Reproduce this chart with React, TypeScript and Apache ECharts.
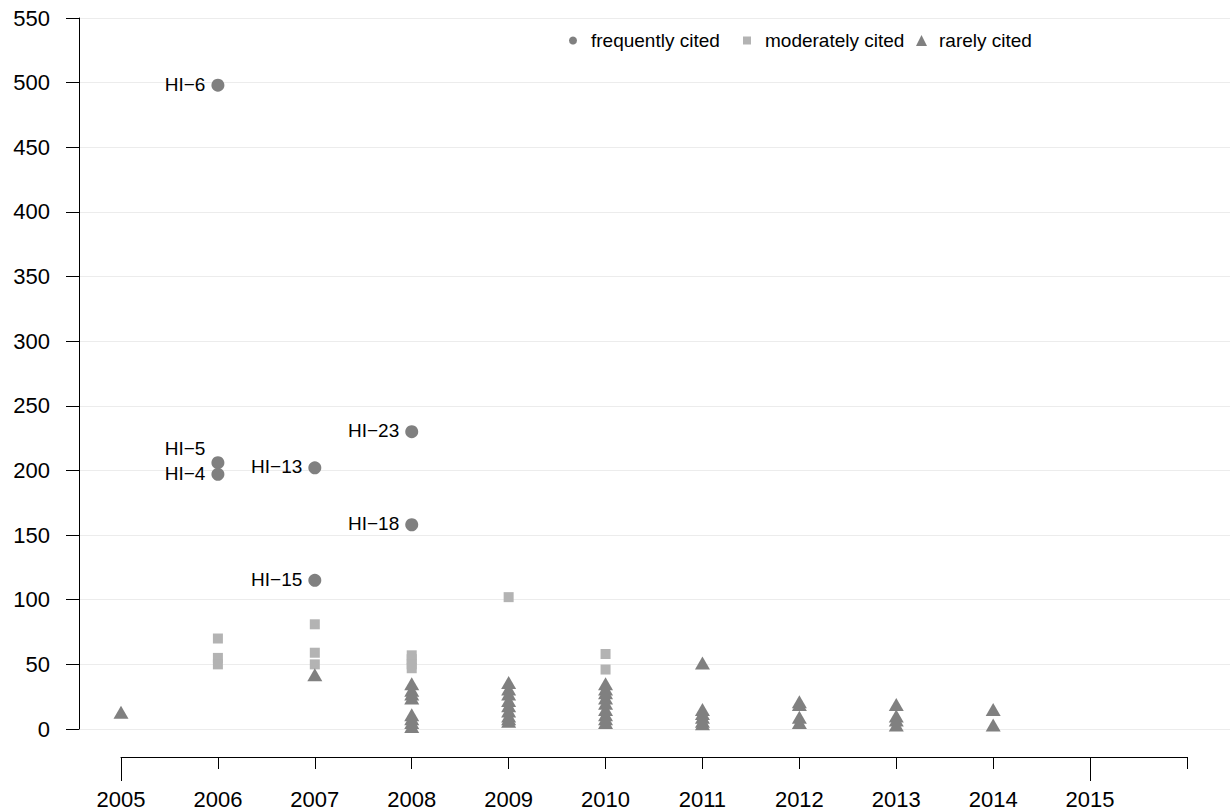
import React, { useEffect, useRef } from "react";
import * as echarts from "echarts";

// ---- data ----
const frequentYears = [2006, 2006, 2006, 2007, 2007, 2008, 2008];
const frequentCites = [498, 206, 197, 202, 115, 230, 158];
const frequentNames = ["HI−6", "HI−5", "HI−4", "HI−13", "HI−15", "HI−23", "HI−18"];

const moderateYears = [2006, 2006, 2006, 2007, 2007, 2007, 2008, 2008, 2008, 2008, 2009, 2010, 2010];
const moderateCites = [70, 55, 50, 81, 59, 50, 57, 54, 50, 47, 102, 58, 46];

const rareYears = [
  2005,
  2007,
  2008, 2008, 2008, 2008, 2008, 2008, 2008, 2008,
  2009, 2009, 2009, 2009, 2009, 2009, 2009, 2009, 2009,
  2010, 2010, 2010, 2010, 2010, 2010, 2010, 2010, 2010,
  2011, 2011, 2011, 2011, 2011, 2011,
  2012, 2012, 2012, 2012,
  2013, 2013, 2013, 2013,
  2014, 2014,
];
const rareCites = [
  13,
  42,
  35, 30, 27, 24, 11, 8, 5, 2,
  36, 31, 27, 22, 18, 14, 10, 8, 6,
  35, 31, 28, 24, 20, 15, 11, 8, 5,
  51, 15, 12, 9, 6, 4,
  21, 19, 9, 5,
  19, 10, 7, 3,
  15, 3,
];

const yearTicks = [2005, 2006, 2007, 2008, 2009, 2010, 2011, 2012, 2013, 2014, 2015];
const longTicks = [2005, 2015];
const seriesNames = ["frequently cited", "moderately cited", "rarely cited"];

const FONT = "'Liberation Sans', Arial, Helvetica, sans-serif";
const DARK = "#808080";
const LIGHT = "#b3b3b3";

export default function App() {
  const ref = useRef<HTMLDivElement>(null);

  useEffect(() => {
    if (!ref.current) return;
    const chart = echarts.init(ref.current, null, { renderer: "svg" });

    const freqData = frequentYears.map((x, i) => {
      const item: any = { name: frequentNames[i], value: [x, frequentCites[i]] };
      if (frequentNames[i] === "HI−5") item.label = { offset: [0, -14] };
      return item;
    });
    const modData = moderateYears.map((x, i) => [x, moderateCites[i]]);
    const rareData = rareYears.map((x, i) => [x, rareCites[i]]);

    const legendCommon = (left: number, w: number, pad: number, name: string, icon: string) => ({
      orient: "horizontal",
      left,
      top: 26,
      itemWidth: w,
      itemHeight: w,
      selectedMode: false,
      textStyle: { fontSize: 19, color: "#000", fontFamily: FONT, padding: [0, 0, 0, pad] },
      data: [{ name, icon }],
    });

    chart.setOption({
      animation: false,
      backgroundColor: "#fff",
      textStyle: { fontFamily: FONT },
      grid: [
        { left: 121, right: 44, top: 18, bottom: 82 },
        { left: 79, right: 1, top: 18, bottom: 82 },
      ],
      legend: [
        legendCommon(564, 8, 9, seriesNames[0], "circle"),
        legendCommon(738, 8, 9, seriesNames[1], "rect"),
        legendCommon(911, 11, 7, seriesNames[2], "triangle"),
      ],
      xAxis: [
        {
          type: "value",
          gridIndex: 0,
          min: 2005,
          max: 2016,
          interval: 1,
          position: "bottom",
          offset: 28,
          axisLine: { show: true, onZero: false, lineStyle: { color: "#000", width: 1 } },
          axisTick: { show: true, length: 12, lineStyle: { color: "#000", width: 1 } },
          axisLabel: {
            show: true,
            margin: 31,
            fontSize: 22,
            color: "#000",
            fontFamily: FONT,
            customValues: yearTicks,
            formatter: (v: number) => String(v),
          },
          splitLine: { show: false },
        },
        {
          type: "value",
          gridIndex: 0,
          min: 2005,
          max: 2016,
          interval: 1,
          position: "bottom",
          offset: 28,
          axisLine: { show: false, onZero: false },
          axisTick: { show: true, length: 24, customValues: longTicks, lineStyle: { color: "#000", width: 1 } },
          axisLabel: { show: false },
          splitLine: { show: false },
        },
        {
          type: "value",
          gridIndex: 1,
          min: 0,
          max: 1,
          show: false,
        },
      ],
      yAxis: [
        {
          type: "value",
          gridIndex: 0,
          min: 0,
          max: 550,
          interval: 50,
          show: false,
        },
        {
          type: "value",
          gridIndex: 1,
          min: 0,
          max: 550,
          interval: 50,
          axisLine: { show: true, onZero: false, lineStyle: { color: "#000", width: 1 } },
          axisTick: { show: true, length: 13, lineStyle: { color: "#000", width: 1 } },
          axisLabel: { show: true, margin: 29, fontSize: 22, color: "#000", fontFamily: FONT },
          splitLine: { show: true, lineStyle: { color: "#ececec", width: 1 } },
        },
      ],
      series: [
        {
          name: seriesNames[0],
          type: "scatter",
          xAxisIndex: 0,
          yAxisIndex: 0,
          symbol: "circle",
          symbolSize: 13,
          itemStyle: { color: DARK, opacity: 1 },
          label: {
            show: true,
            position: "left",
            distance: 6,
            offset: [0, -1],
            formatter: "{b}",
            fontSize: 19,
            color: "#000",
            fontFamily: FONT,
          },
          data: freqData,
          z: 3,
        },
        {
          name: seriesNames[1],
          type: "scatter",
          xAxisIndex: 0,
          yAxisIndex: 0,
          symbol: "rect",
          symbolSize: 10,
          itemStyle: { color: LIGHT, opacity: 1 },
          data: modData,
          z: 4,
        },
        {
          name: seriesNames[2],
          type: "scatter",
          xAxisIndex: 0,
          yAxisIndex: 0,
          symbol: "triangle",
          symbolSize: [15, 13],
          itemStyle: { color: DARK, opacity: 1 },
          data: rareData,
          z: 5,
        },
      ],
    });

    return () => chart.dispose();
  }, []);

  return (
    <div
      ref={ref}
      style={{ position: "fixed", left: 0, top: 0, width: 1231, height: 811, background: "#fff" }}
    />
  );
}
